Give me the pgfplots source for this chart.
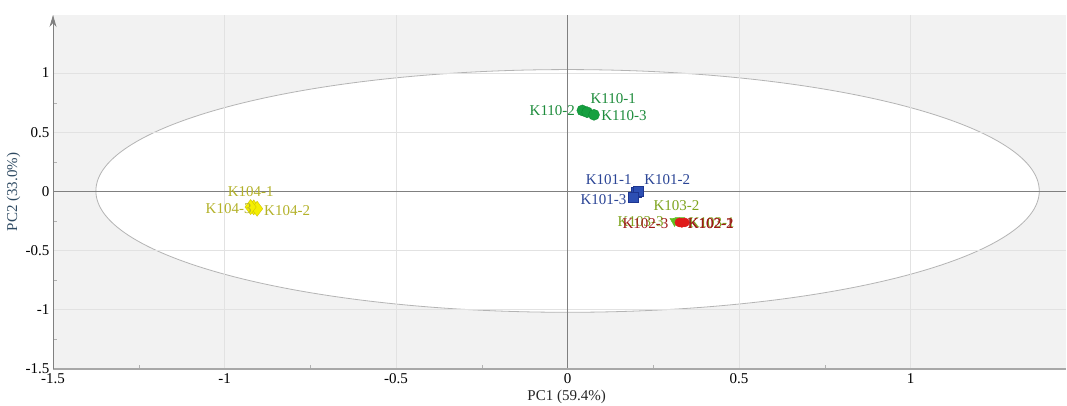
\documentclass[border=0pt]{standalone}
\usepackage{pgfplots}
\pgfplotsset{compat=1.18}
\usepackage{pgfplotstable}
\usepackage{fontspec}
\setmainfont{Liberation Serif}
\usetikzlibrary{arrows.meta}
\definecolor{bgc}{HTML}{F2F2F2}
\definecolor{gridc}{HTML}{E2E2E2}
\definecolor{zeroc}{HTML}{808080}
\definecolor{ellc}{HTML}{B4B4B4}
\definecolor{xaxc}{HTML}{A8A8A8}
\definecolor{ylabc}{HTML}{2E4A62}
\definecolor{gfill}{HTML}{16A040}
\definecolor{gdraw}{HTML}{0D8A33}
\definecolor{glab}{HTML}{1E8C3C}
\definecolor{bfill}{HTML}{2D4FB3}
\definecolor{bdraw}{HTML}{1D3590}
\definecolor{blab}{HTML}{2B4596}
\definecolor{yfill}{HTML}{F5EF00}
\definecolor{ydraw}{HTML}{D0C400}
\definecolor{ylab}{HTML}{B4B22A}
\definecolor{lgfill}{HTML}{5FC020}
\definecolor{lglab}{HTML}{7EA41E}
\definecolor{rfill}{HTML}{E01A1A}
\definecolor{rlab}{HTML}{9E1A1A}
\pgfdeclarelayer{ellipse layer}
\pgfplotsset{
  layers/mylayers/.define layer set={axis background,ellipse layer,axis grid,axis ticks,axis lines,axis tick labels,pre main,main,axis descriptions,axis foreground}{/pgfplots/layers/standard},
}
\pgfplotstableread{
x y dx dy lab
0.043 0.684 -30 0 K110-2
0.057 0.669 26 14 K110-1
0.077 0.647 30 -1 K110-3
}\kten
\pgfplotstableread{
x y dx dy lab
0.200 -0.010 -27.5 13 K101-1
0.206 0.000 29 12 K101-2
0.192 -0.051 -30 -2 K101-3
}\kone
\pgfplotstableread{
x y dx dy lab
-0.915 -0.135 -3 16 K104-1
-0.905 -0.146 30 -2 K104-2
-0.924 -0.132 -22 -2 K104-3
}\kfour
\pgfplotstableread{
x y dx dy lab
0.327 -0.245 32 -2 K103-1
0.322 -0.250 -1.5 15.6 K103-2
0.312 -0.250 -34 -1 K103-3
}\kthree
\pgfplotstableread{
x y dx dy lab
0.342 -0.262 26 -1 K102-1
0.333 -0.266 29 -1 K102-2
0.326 -0.262 -34 -1 K102-3
}\ktwo
\pgfplotsset{
  lbl/.style={
    nodes near coords, point meta=explicit symbolic,
    visualization depends on={\thisrow{dx} \as \dx},
    visualization depends on={\thisrow{dy} \as \dy},
    every node near coord/.style={anchor=center, inner sep=0pt, xshift={\dx*1pt}, yshift={\dy*1pt}, text=#1, font=\fontsize{15}{15}\selectfont},
  },
}
\begin{document}
\begin{tikzpicture}
\begin{axis}[
  set layers=mylayers,
  at={(53pt,36pt)}, anchor=south west,
  scale only axis, width=1013pt, height=354pt,
  xmin=-1.5, xmax=1.453, ymin=-1.5, ymax=1.49,
  axis lines=left,
  x axis line style={-, draw=xaxc, line width=1.5pt},
  y axis line style={-{Stealth[length=12pt,width=7pt]}, draw=zeroc, line width=0.8pt},
  axis background/.style={fill=bgc},
  xtick={-1.5,-1,-0.5,0,0.5,1}, xticklabels={-1.5,-1,-0.5,0,0.5,1},
  ytick={-1.5,-1,-0.5,0,0.5,1}, yticklabels={-1.5,-1,-0.5,0,0.5,1},
  minor tick num=1,
  grid=major, major grid style={draw=gridc, line width=0.8pt},
  tick align=inside, major tick length=0pt, minor tick length=4pt,
  minor tick style={draw=gray!60},
  tick label style={font=\fontsize{15}{15}\selectfont, text=black},
  xticklabel style={yshift=-1pt},
  extra x ticks={0}, extra y ticks={0}, extra x tick labels={}, extra y tick labels={},
  extra tick style={major grid style={draw=zeroc, line width=1pt}, major tick length=0pt},
  xlabel={PC1 (59.4\%)}, ylabel={PC2 (33.0\%)},
  every axis x label/.style={at={(axis description cs:0.507,-0.079)}, anchor=center, font=\fontsize{15}{15}\selectfont, text=black!85},
  every axis y label/.style={at={(axis description cs:-0.039,0.5)}, rotate=90, anchor=center, font=\fontsize{15}{15}\selectfont, text=ylabc},
  clip=false,
]
\begin{pgfonlayer}{ellipse layer}
\filldraw[fill=white, draw=ellc, line width=0.8pt] (axis cs:0,0.004) ellipse [x radius=1.375, y radius=1.025];
\end{pgfonlayer}
\addplot[only marks, mark=*, mark size=5.5pt, mark options={fill=gfill, draw=gdraw}, lbl=glab] table[x=x, y=y, meta=lab] {\kten};
\addplot[only marks, mark=square*, mark size=5pt, mark options={fill=bfill, draw=bdraw}, lbl=blab] table[x=x, y=y, meta=lab] {\kone};
\addplot[only marks, mark=diamond*, mark size=7.5pt, mark options={fill=yfill, draw=ydraw}, lbl=ylab] table[x=x, y=y, meta=lab] {\kfour};
\addplot[only marks, mark=triangle*, mark size=5.5pt, mark options={fill=lgfill, draw=lgfill, rotate=180}, lbl=lglab] table[x=x, y=y, meta=lab] {\kthree};
\addplot[only marks, mark=*, mark size=4.5pt, mark options={fill=rfill, draw=rfill}, lbl=rlab] table[x=x, y=y, meta=lab] {\ktwo};
\end{axis}
\pgfresetboundingbox
\path[use as bounding box] (0,0) rectangle (1067pt,405pt);
\end{tikzpicture}
\end{document}
